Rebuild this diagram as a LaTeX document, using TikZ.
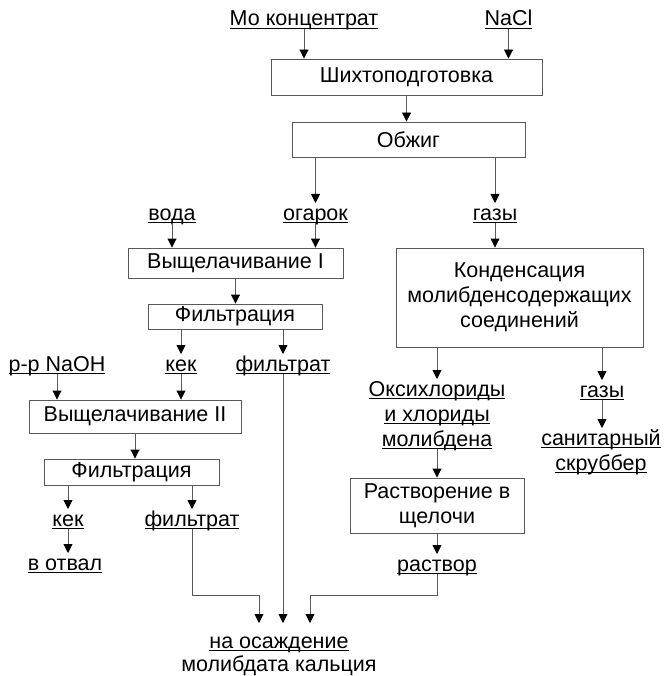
\documentclass[tikz,border=0pt]{standalone}
\usepackage{fontspec}
\setmainfont{Liberation Sans}
\usetikzlibrary{arrows.meta}
\newcommand\undl[1]{\setbox0\hbox{#1}\dp0=0pt \ht0=17pt \rlap{\rule[-2.6pt]{\wd0}{1pt}}\box0}
\tikzset{
  box/.style={draw=black!65, line width=0.9pt, inner sep=0pt, align=center, font=\fontsize{21.5}{25}\selectfont},
  lab/.style={anchor=north, inner sep=0pt, outer sep=0pt, align=center, font=\fontsize{21.5}{25}\selectfont},
  arr/.style={draw=black!65, line width=0.9pt, -{Triangle[length=9pt,width=9pt,color=black]}},
}

\begin{document}
\begin{tikzpicture}[x=1pt, y=-1pt]
  \useasboundingbox (0,0) rectangle (664,676);
  % boxes
  \node[box, minimum width=271, minimum height=36] (shih) at (406.5,77) {Шихтоподготовка};
  \node[box, minimum width=233, minimum height=35] (obzh) at (408.5,139.5) {Обжиг};
  \node[box, minimum width=215, minimum height=30] (vysh1) at (235.5,263) {Выщелачивание I};
  \node[box, minimum width=174, minimum height=25] (filt1) at (235,316.5) {Фильтрация};
  \node[box, minimum width=247, minimum height=99] (kond) at (519.5,297.5) {Конденсация\\молибденсодержащих\\соединений};
  \node[box, minimum width=212, minimum height=33] (vysh2) at (135,416.5) {Выщелачивание II};
  \node[box, minimum width=175, minimum height=26] (filt2) at (131.5,472) {Фильтрация};
  \node[box, minimum width=174, minimum height=55] (rastv) at (437,505.5) {Растворение в\\щелочи};
  % labels
  \node[lab] (mo) at (304,9) {\undl{Мо концентрат}};
  \node[lab] (nacl) at (508.5,9) {\undl{NaCl}};
  \node[lab] (voda) at (172,203) {\undl{вода}};
  \node[lab] (ogarok) at (315.5,203) {\undl{огарок}};
  \node[lab] (gazy1) at (495,203) {\undl{газы}};
  \node[lab] (naoh) at (57,354) {\undl{р-р NaOH}};
  \node[lab] (kek1) at (181,354) {\undl{кек}};
  \node[lab] (filtrat1) at (283,354) {\undl{фильтрат}};
  \node[lab] (oksi) at (437,379) {\undl{Оксихлориды}\\\undl{и хлориды}\\\undl{молибдена}};
  \node[lab] (gazy2) at (602,380) {\undl{газы}};
  \node[lab] (sanit) at (601,428) {\undl{санитарный}\\\undl{скруббер}};
  \node[lab] (kek2) at (68,509) {\undl{кек}};
  \node[lab] (filtrat2) at (192,509) {\undl{фильтрат}};
  \node[lab] (otval) at (65,553) {\undl{в отвал}};
  \node[lab] (rastvor) at (437,554) {\undl{раствор}};
  \node[lab] (osazhd) at (279,631) {\undl{на осаждение}\\[-2pt]молибдата кальция};
  \coordinate (merge) at (284,623);
  % connectors
  \draw[arr] (mo.south) -- (mo.south |- shih.north);
  \draw[arr] (nacl.south) -- (nacl.south |- shih.north);
  \draw[arr] (shih.south) -- (shih.south |- obzh.north);
  \draw[arr] (ogarok |- obzh.south) -- (ogarok.north);
  \draw[arr] (gazy1 |- obzh.south) -- (gazy1.north);
  \draw[arr] (voda.south) -- (voda.south |- vysh1.north);
  \draw[arr] (ogarok.south) -- (ogarok.south |- vysh1.north);
  \draw[arr] (gazy1.south) -- (gazy1.south |- kond.north);
  \draw[arr] (vysh1.south) -- (vysh1.south |- filt1.north);
  \draw[arr] (kek1 |- filt1.south) -- (kek1.north);
  \draw[arr] (filtrat1 |- filt1.south) -- (filtrat1.north);
  \draw[arr] (naoh.south) -- (naoh.south |- vysh2.north);
  \draw[arr] (kek1.south) -- (kek1.south |- vysh2.north);
  \draw[arr] (vysh2.south) -- (vysh2.south |- filt2.north);
  \draw[arr] (kek2 |- filt2.south) -- (kek2.north);
  \draw[arr] (filtrat2 |- filt2.south) -- (filtrat2.north);
  \draw[arr] (kek2.south) -- (kek2.south |- otval.north);
  \draw[arr] (oksi |- kond.south) -- (oksi.north);
  \draw[arr] (gazy2 |- kond.south) -- (gazy2.north);
  \draw[arr] (gazy2.south) -- (gazy2.south |- sanit.north);
  \draw[arr] (oksi.south) -- (oksi.south |- rastv.north);
  \draw[arr] (rastvor |- rastv.south) -- (rastvor.north);
  \draw[arr] (filtrat2.south) -- (filtrat2.south |- 0,595) -| ([xshift=-25pt]merge);
  \draw[arr] (filtrat1.south) -- (filtrat1.south |- merge);
  \draw[arr] (rastvor.south) -- (rastvor.south |- 0,595) -| ([xshift=26pt]merge);
\end{tikzpicture}
\end{document}
